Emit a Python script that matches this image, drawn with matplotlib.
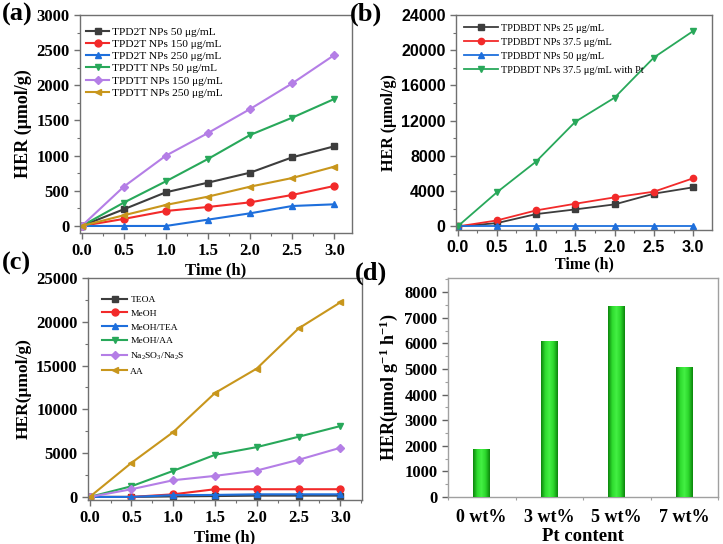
import numpy as np
import matplotlib
matplotlib.use("Agg")
import matplotlib.pyplot as plt
from matplotlib.colors import LinearSegmentedColormap
from matplotlib.ticker import MultipleLocator

plt.rcParams["mathtext.default"] = "regular"

# ---------------- data ----------------
time_h = [0, 0.5, 1.0, 1.5, 2.0, 2.5, 3.0]

a_labels = ["TPD2T NPs 50 \u03bcg/mL", "TPD2T NPs 150 \u03bcg/mL", "TPD2T NPs 250 \u03bcg/mL",
            "TPDTT NPs 50 \u03bcg/mL", "TPDTT NPs 150 \u03bcg/mL", "TPDTT NPs 250 \u03bcg/mL"]
a_tpd2t_50 = [0, 237, 479, 616, 758, 976, 1133]
a_tpd2t_150 = [0, 100, 213, 270, 336, 441, 569]
a_tpd2t_250 = [0, 0, 0, 90, 180, 284, 308]
a_tpdtt_50 = [0, 332, 635, 953, 1294, 1540, 1806]
a_tpdtt_150 = [0, 559, 1000, 1322, 1663, 2028, 2431]
a_tpdtt_250 = [0, 152, 299, 417, 559, 682, 844]

b_labels = ["TPDBDT NPs 25 \u03bcg/mL", "TPDBDT NPs 37.5 \u03bcg/mL",
            "TPDBDT NPs 50 \u03bcg/mL", "TPDBDT NPs 37.5 \u03bcg/mL with Pt"]
b_25 = [0, 380, 1405, 1937, 2507, 3722, 4443]
b_375 = [0, 684, 1823, 2582, 3304, 3950, 5469]
b_50 = [0, 0, 0, 0, 0, 0, 0]
b_375_pt = [0, 3874, 7367, 11886, 14620, 19176, 22177]

c_labels = ["TEOA", "MeOH", "MeOH/TEA", "MeOH/AA",
            "Na$_2$SO$_3$/Na$_2$S", "AA"]
c_teoa = [0, 0, 60, 100, 150, 150, 150]
c_meoh = [0, 0, 300, 880, 880, 880, 880]
c_meoh_tea = [0, 0, 200, 230, 300, 300, 300]
c_meoh_aa = [0, 1221, 2977, 4809, 5687, 6870, 8092]
c_na2so3 = [0, 878, 1908, 2405, 3015, 4237, 5611]
c_aa = [0, 3893, 7405, 11870, 14656, 19237, 22214]

d_categories = ["0 wt%", "3 wt%", "5 wt%", "7 wt%"]
d_values = [1840, 6090, 7440, 5040]

# ---------------- style ----------------
col_black = "#3d3d3d"
col_red = "#f22a2a"
col_blue = "#1e6fdc"
col_green = "#28a85a"
col_purple = "#b47ee6"
col_gold = "#c8961c"
markers = ["s", "o", "^", "v", "D", "<"]
msizes = [5, 5, 5, 5, 4.2, 5]
colors = [col_black, col_red, col_blue, col_green, col_purple, col_gold]

SERIF = "Liberation Serif"
SANS = "Liberation Sans"
spine_col = "#707070"

W, H = 723, 544
fig = plt.figure(figsize=(W / 100, H / 100), dpi=100)


def add_ax(l, r, t, b):
    return fig.add_axes([l / W, (H - b) / H, (r - l) / W, (b - t) / H])


def style_ax(ax, fam, fs, scol=spine_col):
    for s in ax.spines.values():
        s.set_color(scol)
        s.set_linewidth(1.0)
    ax.tick_params(which="both", direction="out", color=scol)
    ax.tick_params(which="major", length=4, width=1.0, labelsize=fs)
    ax.tick_params(which="minor", length=2.5, width=0.8)
    ax.tick_params(axis="both", which="both", top=False, right=False)
    for lab in ax.get_xticklabels() + ax.get_yticklabels():
        lab.set_fontfamily(fam)
        lab.set_fontweight("bold")


# ---------------- panel (a) ----------------
axa = add_ax(80, 352, 15, 233)
for ys, lab, m, ms, c in zip([a_tpd2t_50, a_tpd2t_150, a_tpd2t_250, a_tpdtt_50, a_tpdtt_150, a_tpdtt_250],
                             a_labels, markers, msizes, colors):
    axa.plot(time_h, ys, marker=m, color=c, lw=1.5, ms=ms, label=lab)
axa.set_xlim(-0.02, 3.21)
axa.set_ylim(-100, 3000)
axa.xaxis.set_major_locator(MultipleLocator(0.5))
axa.xaxis.set_minor_locator(MultipleLocator(0.25))
axa.yaxis.set_major_locator(MultipleLocator(500))
axa.yaxis.set_minor_locator(MultipleLocator(250))
axa.set_xticklabels([f"{v:.1f}" for v in axa.get_xticks()])
style_ax(axa, SERIF, 12)
axa.set_xlabel("Time (h)", fontfamily=SERIF, fontweight="bold", fontsize=12, labelpad=2)
axa.set_ylabel("HER (\u03bcmol/g)", fontfamily=SERIF, fontweight="bold", fontsize=13, labelpad=3)
axa.legend(loc="upper left", frameon=False, prop={"family": SERIF, "size": 8.2},
           handlelength=2.0, handletextpad=0.25, labelspacing=0.2,
           bbox_to_anchor=(0.0, 0.975), borderaxespad=0.15)

# ---------------- panel (b) ----------------
axb = add_ax(456, 712, 15, 230)
for ys, lab, m, c in zip([b_25, b_375, b_50, b_375_pt], b_labels, markers[:4], colors[:4]):
    axb.plot(time_h, ys, marker=m, color=c, lw=1.3, ms=4.5, label=lab)
axb.set_xlim(-0.02, 3.24)
axb.set_ylim(-400, 24000)
axb.xaxis.set_major_locator(MultipleLocator(0.5))
axb.xaxis.set_minor_locator(MultipleLocator(0.25))
axb.yaxis.set_major_locator(MultipleLocator(4000))
axb.yaxis.set_minor_locator(MultipleLocator(2000))
axb.set_xticklabels([f"{v:.1f}" for v in axb.get_xticks()])
style_ax(axb, SANS, 11.5)
axb.set_xlabel("Time (h)", fontfamily=SERIF, fontweight="bold", fontsize=11.5, labelpad=1)
axb.set_ylabel("HER (\u03bcmol/g)", fontfamily=SERIF, fontweight="bold", fontsize=11.5, labelpad=3)
axb.legend(loc="upper left", frameon=False, prop={"family": SERIF, "size": 7.5},
           handlelength=3.2, handletextpad=0.3, labelspacing=0.45,
           bbox_to_anchor=(0.0, 1.0), borderaxespad=0.4)

# ---------------- panel (c) ----------------
axc = add_ax(88, 362, 278, 500)
for ys, lab, m, ms, c in zip([c_teoa, c_meoh, c_meoh_tea, c_meoh_aa, c_na2so3, c_aa],
                             c_labels, markers, msizes, colors):
    axc.plot(time_h, ys, marker=m, color=c, lw=1.5, ms=ms, label=lab)
axc.set_xlim(-0.02, 3.26)
axc.set_ylim(-350, 25000)
axc.xaxis.set_major_locator(MultipleLocator(0.5))
axc.xaxis.set_minor_locator(MultipleLocator(0.25))
axc.yaxis.set_major_locator(MultipleLocator(5000))
axc.yaxis.set_minor_locator(MultipleLocator(2500))
axc.set_xticklabels([f"{v:.1f}" for v in axc.get_xticks()])
style_ax(axc, SERIF, 12)
axc.set_xlabel("Time (h)", fontfamily=SERIF, fontweight="bold", fontsize=12, labelpad=2)
axc.set_ylabel("HER(\u03bcmol/g)", fontfamily=SERIF, fontweight="bold", fontsize=12.5, labelpad=3)
axc.legend(loc="upper left", frameon=False, prop={"family": SERIF, "size": 6.8},
           handlelength=2.7, handletextpad=0.3, labelspacing=0.55,
           bbox_to_anchor=(0.02, 0.96), borderaxespad=0.5)

# ---------------- panel (d) ----------------
axd = add_ax(448, 718, 278, 497)
xpos = np.arange(len(d_values))
bars = axd.bar(xpos, d_values, width=0.25, color="#22c422", zorder=2)
cmap = LinearSegmentedColormap.from_list("g", ["#0c850c", "#2fdc2f", "#44f044", "#2bd62b", "#0c850c"])
grad = np.linspace(0, 1, 64).reshape(1, -1)
for b in bars:
    x0, w, h = b.get_x(), b.get_width(), b.get_height()
    axd.imshow(grad, cmap=cmap, aspect="auto", extent=(x0, x0 + w, 0, h), zorder=3)
axd.set_xlim(-0.5, 3.5)
axd.set_ylim(0, 8550)
axd.set_xticks(xpos)
axd.set_xticklabels(d_categories)
axd.xaxis.set_minor_locator(MultipleLocator(0.5))
axd.yaxis.set_major_locator(MultipleLocator(1000))
axd.yaxis.set_minor_locator(MultipleLocator(500))
style_ax(axd, SERIF, 12, scol="#a0a0a0")
axd.tick_params(axis="x", which="major", length=0, labelsize=13, pad=9)
axd.tick_params(axis="y", colors="#606060", labelcolor="black")
axd.set_xlabel("Pt content", fontfamily=SERIF, fontweight="bold", fontsize=13.5, labelpad=1)
axd.set_ylabel("HER(\u03bcmol g$^{-1}$ h$^{-1}$)", fontfamily=SERIF, fontweight="bold",
               fontsize=13, labelpad=3)

# ---------------- panel letters ----------------
for txt, (px, py) in zip(["(a)", "(b)", "(c)", "(d)"],
                         [(2, 3), (350, 3), (2, 252), (355, 262)]):
    fig.text(px / W, 1 - py / H, txt, fontfamily=SERIF, fontweight="bold", fontsize=19,
             ha="left", va="top")

fig.savefig("out.png", dpi=100)
